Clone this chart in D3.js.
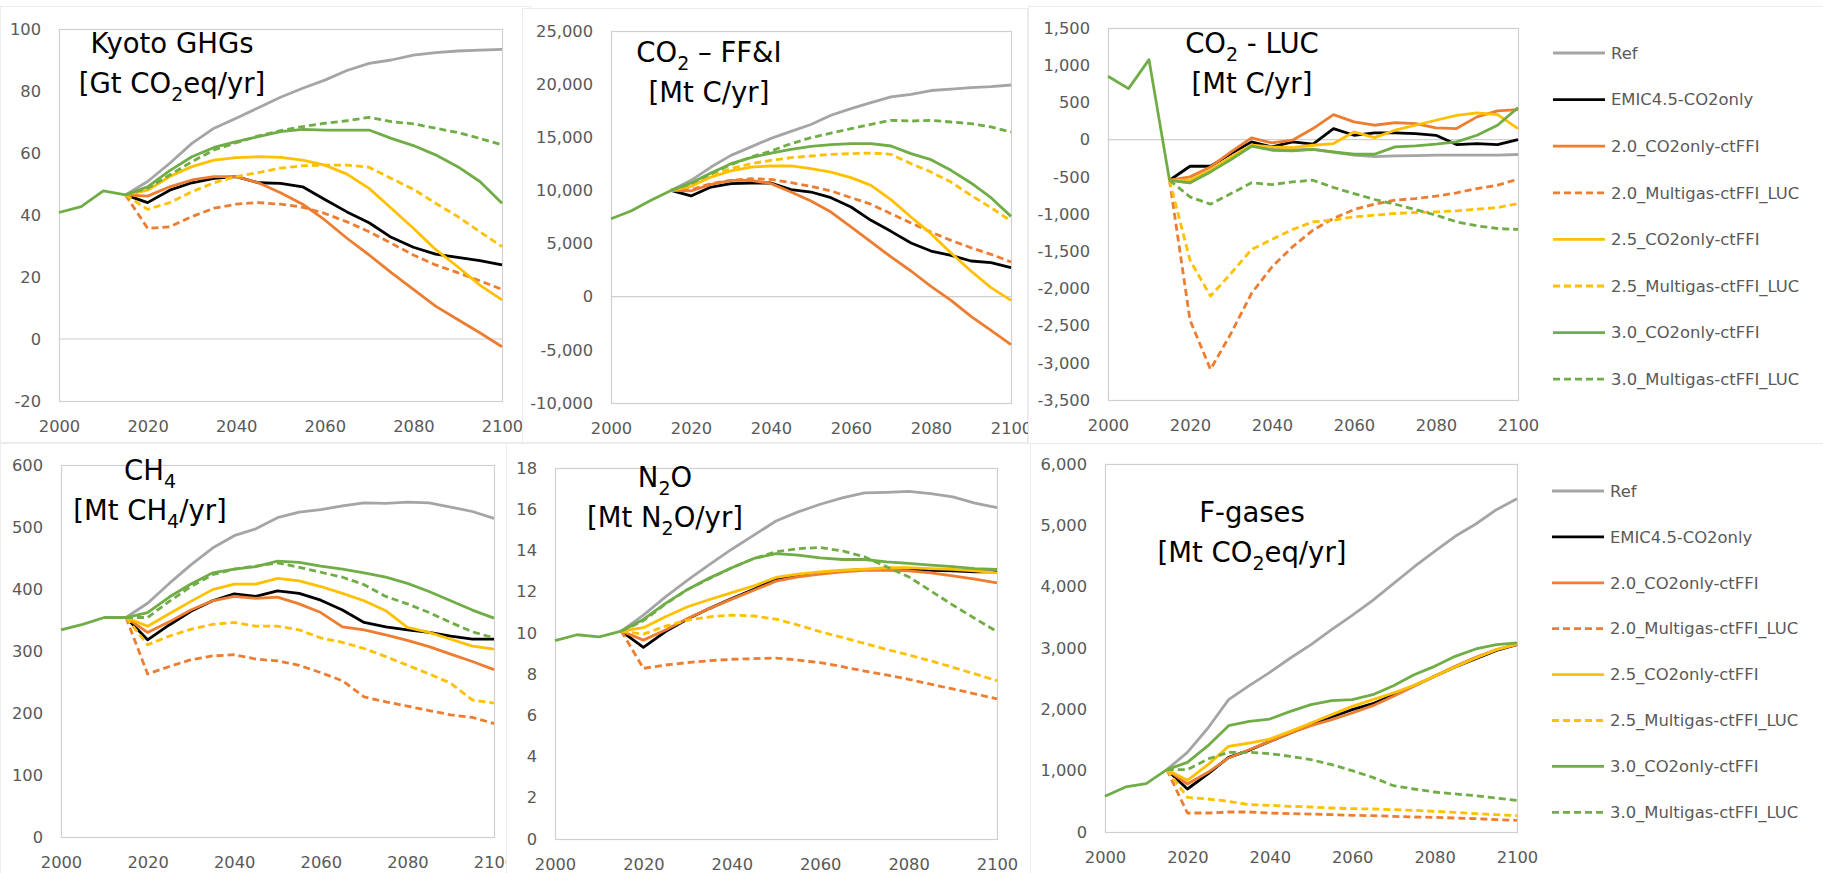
<!DOCTYPE html>
<html>
<head>
<meta charset="utf-8">
<script src="https://cdn.jsdelivr.net/npm/d3@7"></script>
<style>
    body { margin: 0; background: #fff; }
    svg { display: block; }
</style>
</head>
<body>
<div class="chart"></div>
<script>
// ---- data ----
const histYears = [2000, 2005, 2010, 2015];
const years = [2015, 2020, 2025, 2030, 2035, 2040, 2045, 2050, 2055,
    2060, 2065, 2070, 2075, 2080, 2085, 2090, 2095, 2100];
const xTicks = [2000, 2020, 2040, 2060, 2080, 2100];

const seriesNames = ['Ref', 'EMIC4.5-CO2only', '2.0_CO2only-ctFFI', '2.0_Multigas-ctFFI_LUC',
    '2.5_CO2only-ctFFI', '2.5_Multigas-ctFFI_LUC', '3.0_CO2only-ctFFI', '3.0_Multigas-ctFFI_LUC'];

// series order: Ref, EMIC, 2.0 solid, 2.0 dashed, 2.5 solid, 2.5 dashed, 3.0 solid, 3.0 dashed
const kyotoHist = [40.8, 42.7, 47.8, 46.5];
const kyoto = [
    [46.5, 50.8, 56.7, 63.1, 68, 71.2, 74.6, 78, 80.9, 83.5, 86.6, 88.9, 90, 91.6, 92.4, 92.9, 93.2, 93.4],
    [46.5, 44, 48, 50.4, 51.8, 52.4, 50.4, 50.2, 49.1, 45, 41, 37.5, 32.8, 29.6, 27.4, 26.3, 25.3, 23.9],
    [46.5, 46.1, 49.1, 51.3, 52.4, 52.4, 50.4, 47.2, 43.5, 38.4, 32.5, 27.1, 21.4, 16, 10.6, 6.3, 2, -2.5],
    [46.5, 35.7, 36.2, 39.5, 42.2, 43.5, 44, 43.5, 42.5, 40.5, 37.8, 34.6, 30.9, 27.1, 23.9, 21.4, 18.8, 16],
    [46.5, 48, 52.4, 55.6, 57.7, 58.5, 58.8, 58.6, 57.7, 56.1, 53.2, 48.6, 42.2, 35.7, 28.9, 23.3, 17.4, 12.6],
    [46.5, 41.8, 44, 47.5, 50.4, 52.4, 53.7, 55.1, 55.9, 56.1, 56.1, 55.4, 51.8, 48.3, 43.8, 39.5, 34.6, 29.8],
    [46.5, 49.1, 54.3, 58.8, 61.8, 63.7, 65.3, 66.9, 67.6, 67.4, 67.4, 67.4, 64.7, 62.4, 59.4, 55.6, 50.8, 43.8],
    [46.5, 48.6, 52.9, 57.2, 61, 63.3, 65.5, 67.2, 68.5, 69.6, 70.4, 71.5, 70.1, 69.4, 68, 66.6, 64.7, 62.6]
];

const ffiHist = [7340, 8070, 9070, 10000];
const ffi = [
    [10000, 10950, 12200, 13300, 14100, 14900, 15560, 16200, 17070, 17700, 18260, 18800, 19040, 19400, 19540, 19670, 19760, 19920],
    [10000, 9480, 10320, 10640, 10700, 10700, 10070, 9850, 9320, 8440, 7190, 6150, 5050, 4300, 3890, 3360, 3200, 2730],
    [10000, 9950, 10570, 10950, 10950, 10640, 9850, 9000, 7970, 6560, 5150, 3740, 2420, 980, -340, -1850, -3160, -4510],
    [10000, 10070, 10640, 10950, 11100, 11040, 10730, 10380, 9950, 9320, 8700, 7810, 6940, 6090, 5300, 4610, 3990, 3270],
    [10000, 10390, 11260, 11830, 12200, 12300, 12300, 12050, 11730, 11200, 10480, 9130, 7500, 5930, 4110, 2420, 850, -340],
    [10000, 10480, 11420, 12050, 12520, 12830, 13080, 13240, 13400, 13460, 13520, 13400, 12520, 11730, 10790, 9540, 8380, 7120],
    [10000, 10700, 11640, 12520, 13080, 13520, 13870, 14150, 14310, 14400, 14400, 14180, 13460, 12890, 11890, 10700, 9320, 7560],
    [10000, 10640, 11580, 12420, 13140, 13710, 14400, 14960, 15400, 15810, 16220, 16600, 16530, 16600, 16440, 16280, 15970, 15500]
];

const lucHist = [851, 685, 1075, -546];
const luc = [
    [-546, -580, -420, -250, -80, -130, -140, -130, -170, -210, -230, -220, -215, -210, -210, -210, -210, -200],
    [-546, -358, -358, -188, -31, -98, -31, -62, 148, 58, 90, 90, 81, 58, -67, -53, -67, 0],
    [-546, -501, -367, -165, 23, -44, -8, 148, 336, 238, 193, 229, 215, 157, 148, 305, 385, 403],
    [-546, -2426, -3088, -2605, -2068, -1710, -1441, -1217, -1060, -940, -868, -814, -792, -761, -716, -658, -613, -532],
    [-546, -546, -411, -232, -76, -98, -107, -76, -53, 103, 27, 126, 193, 260, 327, 359, 336, 148],
    [-546, -1620, -2103, -1799, -1477, -1342, -1208, -1105, -1083, -1038, -1016, -993, -980, -971, -958, -935, -913, -859],
    [-546, -581, -434, -268, -89, -143, -152, -130, -165, -197, -197, -98, -85, -62, -31, 58, 193, 430],
    [-546, -770, -868, -725, -581, -604, -568, -546, -644, -725, -805, -868, -940, -1016, -1105, -1159, -1195, -1208]
];

const ch4Hist = [334, 343, 354, 354];
const ch4 = [
    [354, 377, 409, 439, 466, 486, 497, 515, 524, 528, 534, 539, 538, 540, 539, 532, 525, 514],
    [354, 318, 342, 364, 381, 392, 388, 397, 393, 382, 366, 346, 339, 334, 330, 324, 319, 319],
    [354, 330, 347, 366, 381, 388, 385, 387, 376, 362, 339, 334, 326, 317, 307, 295, 283, 270],
    [354, 263, 275, 286, 292, 294, 287, 284, 277, 265, 252, 226, 218, 211, 204, 197, 193, 183],
    [354, 340, 360, 380, 399, 408, 408, 417, 413, 404, 393, 381, 365, 338, 330, 319, 308, 303],
    [354, 310, 324, 335, 343, 346, 340, 340, 334, 321, 314, 304, 291, 277, 263, 248, 221, 216],
    [354, 362, 387, 408, 426, 432, 436, 445, 443, 437, 432, 426, 419, 409, 396, 381, 366, 353],
    [354, 354, 380, 404, 423, 432, 437, 442, 435, 427, 419, 407, 388, 376, 362, 346, 331, 321]
];

const n2oHist = [9.62, 9.91, 9.81, 10.09];
const n2o = [
    [10.09, 10.86, 11.75, 12.56, 13.32, 14.06, 14.74, 15.43, 15.87, 16.24, 16.55, 16.79, 16.82, 16.87, 16.76, 16.6, 16.3, 16.08],
    [10.09, 9.3, 10.06, 10.67, 11.19, 11.67, 12.12, 12.61, 12.77, 12.91, 13.01, 13.08, 13.08, 13.08, 13.04, 13.01, 12.96, 12.96],
    [10.09, 9.65, 10.14, 10.7, 11.19, 11.64, 12.07, 12.51, 12.72, 12.85, 12.96, 13.04, 13.04, 13.01, 12.91, 12.77, 12.61, 12.43],
    [10.09, 8.28, 8.44, 8.56, 8.65, 8.72, 8.75, 8.78, 8.68, 8.56, 8.36, 8.15, 7.96, 7.75, 7.51, 7.28, 7.04, 6.8],
    [10.09, 10.25, 10.78, 11.27, 11.62, 11.95, 12.28, 12.69, 12.85, 12.96, 13.04, 13.09, 13.16, 13.17, 13.12, 13.08, 13.01, 12.91],
    [10.09, 9.94, 10.33, 10.62, 10.78, 10.86, 10.82, 10.67, 10.38, 10.06, 9.78, 9.49, 9.2, 8.93, 8.64, 8.33, 8.01, 7.68],
    [10.09, 10.65, 11.43, 12.11, 12.67, 13.16, 13.61, 13.85, 13.77, 13.64, 13.56, 13.56, 13.45, 13.37, 13.29, 13.21, 13.12, 13.08],
    [10.09, 10.59, 11.4, 12.11, 12.64, 13.16, 13.61, 13.93, 14.09, 14.14, 13.98, 13.69, 13.21, 12.72, 12.04, 11.35, 10.7, 10.06]
];

const fgasHist = [582, 734, 788, 1016];
const fgas = [
    [1016, 1299, 1696, 2158, 2386, 2603, 2837, 3054, 3299, 3533, 3777, 4049, 4321, 4576, 4821, 5022, 5255, 5435],
    [1016, 701, 946, 1217, 1332, 1478, 1614, 1750, 1875, 1995, 2092, 2239, 2386, 2538, 2690, 2826, 2962, 3054],
    [1016, 783, 973, 1207, 1342, 1478, 1614, 1734, 1832, 1940, 2060, 2212, 2375, 2538, 2701, 2848, 2973, 3054],
    [1016, 310, 310, 326, 326, 310, 299, 293, 283, 272, 266, 255, 245, 239, 228, 217, 201, 190],
    [1016, 842, 1098, 1397, 1451, 1516, 1641, 1777, 1913, 2049, 2158, 2266, 2391, 2538, 2690, 2837, 2973, 3065],
    [1016, 565, 538, 500, 446, 435, 418, 408, 391, 380, 375, 364, 353, 337, 321, 299, 283, 266],
    [1016, 1136, 1408, 1734, 1804, 1842, 1967, 2076, 2141, 2158, 2239, 2386, 2565, 2701, 2864, 2984, 3054, 3082],
    [1016, 1016, 1190, 1299, 1299, 1277, 1234, 1179, 1098, 1000, 891, 755, 701, 652, 620, 592, 554, 516]
];

// ---- styles ----
const seriesColors = ['#a5a5a5', '#000000', '#ed7d31', '#ed7d31', '#ffc000', '#ffc000', '#70ad47', '#70ad47'];
const seriesDash = [null, null, null, '7,4', null, '7,4', null, '7,4'];
const histColor = '#70ad47';
const lineWidth = 2.8;

const fullWidth = 1823;
const fullHeight = 873;

const locale = d3.formatLocale({ decimal: '.', thousands: ',', grouping: [3], currency: ['', ''], minus: '-' });
const fmtPlain = locale.format('d');
const fmtComma = locale.format(',');

// title lines: each segment [text, isSub]
const panels = [
    { box: [0, 6, 530, 436], plot: [59, 29, 502, 401], domain: [-20, 100], step: 20, fmt: fmtPlain,
      zero: true, hist: kyotoHist, data: kyoto, tx: 172, ty: 53,
      title: [[['Kyoto GHGs']], [['[Gt CO'], ['2', 1], ['eq/yr]']]] },
    { box: [522, 8, 505, 434], plot: [611, 31, 1011, 403], domain: [-10000, 25000], step: 5000, fmt: fmtComma,
      zero: true, hist: ffiHist, data: ffi, tx: 709, ty: 62,
      title: [[['CO'], ['2', 1], [' \u2013 FF&I']], [['[Mt C/yr]']]] },
    { box: [1028, 6, 800, 437], plot: [1108, 28, 1518, 400], domain: [-3500, 1500], step: 500, fmt: fmtComma,
      zero: true, hist: lucHist, data: luc, tx: 1252, ty: 53,
      title: [[['CO'], ['2', 1], [' - LUC']], [['[Mt C/yr]']]] },
    { box: [0, 443, 510, 440], plot: [61, 465, 494, 837], domain: [0, 600], step: 100, fmt: fmtPlain,
      zero: false, hist: ch4Hist, data: ch4, tx: 150, ty: 480,
      title: [[['CH'], ['4', 1]], [['[Mt CH'], ['4', 1], ['/yr]']]] },
    { box: [506, 443, 530, 440], plot: [555, 468, 997, 839], domain: [0, 18], step: 2, fmt: fmtPlain,
      zero: false, hist: n2oHist, data: n2o, tx: 665, ty: 487,
      title: [[['N'], ['2', 1], ['O']], [['[Mt N'], ['2', 1], ['O/yr]']]] },
    { box: [1030, 443, 800, 440], plot: [1105, 464, 1517, 832], domain: [0, 6000], step: 1000, fmt: fmtComma,
      zero: false, hist: fgasHist, data: fgas, tx: 1252, ty: 522,
      title: [[['F-gases']], [['[Mt CO'], ['2', 1], ['eq/yr]']]] }
];

const legends = [
    { x: 1553, y: 53, dy: 46.6 },
    { x: 1552, y: 491, dy: 45.9 }
];

const svg = d3.select('.chart')
    .append('svg')
        .attr('width', fullWidth)
        .attr('height', fullHeight)
        .style('font-family', '"DejaVu Sans", Verdana, sans-serif');

panels.forEach(p => {
    const g = svg.append('g');
    const [bx, by, bw, bh] = p.box;
    const [left, top, right, bottom] = p.plot;

    g.append('rect')
        .attr('x', bx + 0.5).attr('y', by + 0.5)
        .attr('width', bw).attr('height', bh)
        .attr('fill', '#fff')
        .attr('stroke', '#ececec');

    const xScale = d3.scaleLinear().domain([2000, 2100]).range([left, right]);
    const yScale = d3.scaleLinear().domain(p.domain).range([bottom, top]);

    const yTicks = d3.range(p.domain[0], p.domain[1] + p.step / 2, p.step);

    const yAxis = d3.axisLeft(yScale)
        .tickValues(yTicks)
        .tickFormat(p.fmt)
        .tickSize(0)
        .tickPadding(18);

    const xAxis = d3.axisBottom(xScale)
        .tickValues(xTicks)
        .tickFormat(fmtPlain)
        .tickSize(0)
        .tickPadding(19);

    [g.append('g').attr('transform', `translate(${left}, 0)`).call(yAxis),
     g.append('g').attr('transform', `translate(0, ${bottom})`).call(xAxis)]
        .forEach(a => {
            a.select('.domain').remove();
            a.selectAll('text')
                .attr('fill', '#595959')
                .style('font-family', '"DejaVu Sans", Verdana, sans-serif')
                .style('font-size', '16.3px');
        });

    // plot area frame
    g.append('rect')
        .attr('x', left + 0.5).attr('y', top + 0.5)
        .attr('width', right - left).attr('height', bottom - top)
        .attr('fill', 'none')
        .attr('stroke', '#d0d0d0')
        .attr('stroke-width', 1.2);

    if (p.zero) {
        g.append('line')
            .attr('x1', left).attr('x2', right)
            .attr('y1', yScale(0)).attr('y2', yScale(0))
            .attr('stroke', '#d0d0d0')
            .attr('stroke-width', 1.2);
    }

    const line = d3.line()
        .x(d => xScale(d[0]))
        .y(d => yScale(d[1]));

    p.data.forEach((vals, i) => {
        g.append('path')
            .datum(years.map((yr, j) => [yr, vals[j]]))
            .attr('d', line)
            .attr('fill', 'none')
            .attr('stroke', seriesColors[i])
            .attr('stroke-width', lineWidth)
            .attr('stroke-dasharray', seriesDash[i])
            .attr('stroke-linejoin', 'round');
    });

    g.append('path')
        .datum(histYears.map((yr, j) => [yr, p.hist[j]]))
        .attr('d', line)
        .attr('fill', 'none')
        .attr('stroke', histColor)
        .attr('stroke-width', lineWidth)
        .attr('stroke-linejoin', 'round');

    // title
    p.title.forEach((segs, li) => {
        const t = g.append('text')
            .attr('x', p.tx)
            .attr('y', p.ty + li * 40)
            .attr('text-anchor', 'middle')
            .attr('fill', '#000')
            .style('font-size', '27.5px');
        let shifted = false;
        segs.forEach(s => {
            const ts = t.append('tspan').text(s[0]);
            if (s[1]) {
                ts.attr('dy', 8).style('font-size', '19px');
                shifted = true;
            } else if (shifted) {
                ts.attr('dy', -8);
                shifted = false;
            }
        });
    });
});

legends.forEach(l => {
    const lg = svg.append('g');
    seriesNames.forEach((name, i) => {
        const y = l.y + i * l.dy;
        lg.append('line')
            .attr('x1', l.x).attr('x2', l.x + 52)
            .attr('y1', y).attr('y2', y)
            .attr('stroke', seriesColors[i])
            .attr('stroke-width', lineWidth)
            .attr('stroke-dasharray', seriesDash[i]);
        lg.append('text')
            .attr('x', l.x + 58)
            .attr('y', y)
            .attr('dy', '0.35em')
            .attr('fill', '#595959')
            .style('font-size', '16.4px')
            .text(name);
    });
});
</script>
</body>
</html>
